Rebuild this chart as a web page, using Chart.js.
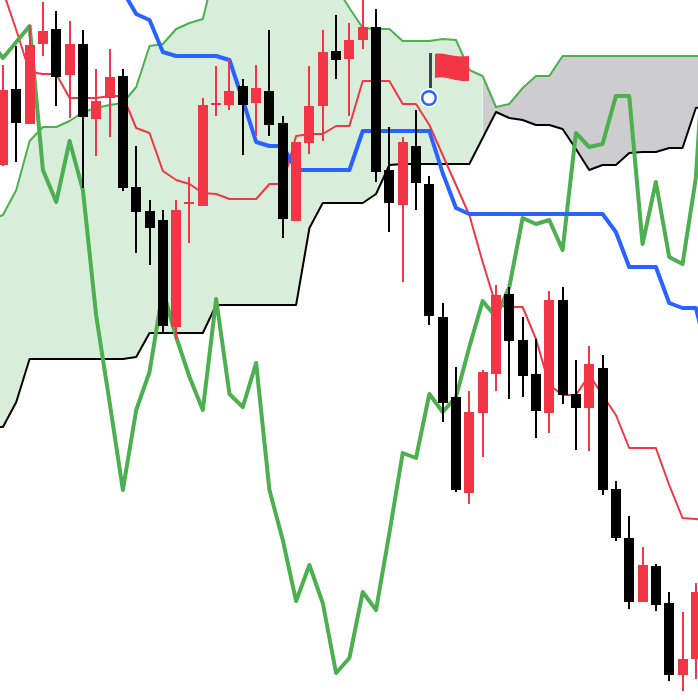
<!DOCTYPE html>
<html>
<head>
<meta charset="utf-8">
<title>Ichimoku</title>
<script src="https://cdn.jsdelivr.net/npm/chart.js@4"></script>
<style>
  html, body { margin: 0; padding: 0; background: #fff; }
  canvas { display: block; }
</style>
</head>
<body>
<canvas id="myChart" width="698" height="700"></canvas>
<script>
// candles, bar index 0..52
const opens  = [535,611,576,656,671,625,656,581,602,624,513,489,480,373,496,494,595,595,614,597,609,577,479,557,594,649,641,660,673,530,495,554,516,383,303,207,287,326,406,360,326,287,400,306,292,332,211,162,98,134,97,25,41];
const closes = [610,577,655,669,623,656,583,599,623,512,488,472,374,490,498,595,597,609,595,612,575,481,558,594,648,640,660,673,528,497,558,517,384,297,210,288,328,405,359,324,289,400,305,292,336,210,162,98,135,95,25,41,108];
const highs  = [635,654,675,698,689,679,670,631,651,631,554,500,490,500,523,602,634,641,621,635,670,584,558,634,670,685,677,705,691,573,563,590,524,397,333,309,330,415,413,383,361,409,413,340,354,345,219,184,153,136,108,88,117];
const lows   = [534,538,576,644,594,582,512,544,563,509,447,435,367,361,457,494,584,590,545,564,564,462,479,546,559,621,584,651,518,468,418,490,375,278,208,196,243,309,301,303,262,267,296,250,249,205,159,91,98,89,19,9,21];

// indicator lines start one bar before the first candle and end one bar after the last
const lineStart = -1;
const tenkan = [750,709,670,628,626,626,602,602,602,604,604,572,567,529,520,516,507,506,501,501,501,516,516,564,566,566,574,574,619,619,619,596,596,575,545,515,485,438,395,393,393,361,315,305,305,325,305,285,252,252,252,215,182,181,180];
const kijun = [null,null,null,null,null,null,null,null,null,null,709,686,680,648,644,644,644,644,640,600,558,554,554,530,530,530,530,530,569,569,569,569,569,569,527,492,486,486,486,486,486,486,486,486,486,486,486,468,433,433,433,397,392,392,340];
const chikou = [660,642,658,674,530,498,559,510,384,298,210,290,328,410,363,323,290,401,306,293,337,210,160,99,135,97,27,42,108,90,167,247,242,306,288,303,353,399,383,413,482,476,480,450,567,553,556,604,604,456,518,443,436,522,730];
const senkouA = [480,485,510,559,573,573,579,588,592,595,597,613,654,656,671,677,681,735,755,770,780,785,785,785,780,760,713,692,672,671,671,659,659,659,661,660,630,624,593,596,612,624,624,644,644,644,644,644,644,644,644,644,644,644,644];
const senkouB = [273,273,298,341,341,341,341,341,341,341,341,343,367,367,367,367,367,395,395,395,395,395,395,395,472,497,497,497,497,506,535,536,536,536,536,536,536,562,588,582,580,575,575,571,551,530,535,535,547,548,548,552,552,592,595];

// the cloud changes colour at this bar
const cloudSplit = 36;

// flag marker
const markerX = [31.97];
const markerY = [602];

const red = '#f23645';
const black = '#000000';
const green = '#4caf50';
const blue = '#2962ff';

function toPoints(values) {
  return values.map((v, i) => ({ x: i + lineStart, y: v }));
}

const candleColors = closes.map((c, i) => (c >= opens[i] ? red : black));
const wicks = highs.map((h, i) => ({ x: i, y: [lows[i], h] }));
const bodies = closes.map((c, i) => ({ x: i, y: [Math.min(opens[i], c), Math.max(opens[i], c)] }));

const pointsA = toPoints(senkouA);
const pointsB = toPoints(senkouB);

function lineSet(label, points, color, width, order) {
  return {
    type: 'line', label: label, data: points, borderColor: color, borderWidth: width,
    pointRadius: 0, tension: 0, fill: false, borderJoinStyle: 'round', order: order
  };
}

// pole and flag, drawn once and used as a point style
function makeFlag() {
  const c = document.createElement('canvas');
  c.width = 100;
  c.height = 100;
  const ctx = c.getContext('2d');
  ctx.translate(50, 50);
  ctx.fillStyle = '#ffffff';
  ctx.beginPath();
  ctx.arc(0, 0, 9.5, 0, Math.PI * 2);
  ctx.fill();
  ctx.fillStyle = '#434651';
  ctx.fillRect(0, -45, 3, 35);
  ctx.fillStyle = red;
  ctx.beginPath();
  ctx.moveTo(6, -44);
  ctx.bezierCurveTo(16, -46, 24, -40, 40, -42);
  ctx.lineTo(40, -17);
  ctx.bezierCurveTo(26, -16, 16, -23, 6, -20);
  ctx.closePath();
  ctx.fill();
  return c;
}

// keep candles on whole pixels so that they stay sharp
const snapBars = {
  id: 'snapBars',
  afterDatasetsUpdate(chart) {
    chart.data.datasets.forEach((ds, k) => {
      if (ds.type === 'bar') {
        chart.getDatasetMeta(k).data.forEach(el => { el.x = Math.round(el.x); });
      }
    });
  }
};

const data = {
  datasets: [
    Object.assign(lineSet('Senkou A', pointsA.filter(p => p.x <= cloudSplit), green, 2, 8),
      { fill: { target: 1 }, backgroundColor: 'rgba(76,175,80,0.21)' }),
    lineSet('Senkou B', pointsB.filter(p => p.x <= cloudSplit), black, 2, 7),
    Object.assign(lineSet('Senkou A', pointsA.filter(p => p.x >= cloudSplit), green, 2, 8),
      { fill: { target: 3 }, backgroundColor: '#cdcdd0' }),
    lineSet('Senkou B', pointsB.filter(p => p.x >= cloudSplit), black, 2, 7),
    lineSet('Tenkan', toPoints(tenkan), red, 2, 6),
    lineSet('Chikou', toPoints(chikou), green, 4, 5),
    lineSet('Kijun', toPoints(kijun), blue, 4, 4),
    {
      type: 'bar', label: 'Wick', data: wicks, backgroundColor: candleColors,
      barThickness: 2, grouped: false, inflateAmount: 0, order: 3
    },
    {
      type: 'bar', label: 'Body', data: bodies, backgroundColor: candleColors,
      barThickness: 10, grouped: false, inflateAmount: 0, order: 2
    },
    {
      type: 'line', label: 'Flag', data: [{ x: markerX[0], y: markerY[0] }], showLine: false,
      pointStyle: makeFlag(), pointRadius: 1, order: 1
    },
    {
      type: 'line', label: 'Marker', data: [{ x: markerX[0], y: markerY[0] }], showLine: false,
      pointRadius: 6.8, pointBackgroundColor: '#ffffff', pointBorderColor: blue, pointBorderWidth: 2.4, order: 0
    }
  ]
};

const config = {
  data: data,
  plugins: [snapBars],
  options: {
    responsive: false,
    animation: false,
    layout: { padding: 0, autoPadding: false },
    plugins: { legend: { display: false }, tooltip: { enabled: false } },
    scales: {
      x: { type: 'linear', display: false, offset: false, min: -0.2214, max: 52.1617 },
      y: { type: 'linear', display: false, min: 0, max: 700 }
    }
  }
};

const myChart = new Chart(document.getElementById('myChart'), config);
</script>
</body>
</html>
